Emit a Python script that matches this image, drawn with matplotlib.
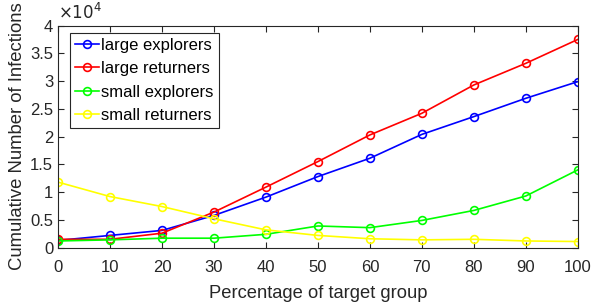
import matplotlib
matplotlib.use("Agg")
import matplotlib.pyplot as plt

plt.rcParams['font.family'] = ['Liberation Sans', 'DejaVu Sans']

x = [0, 10, 20, 30, 40, 50, 60, 70, 80, 90, 100]
large_explorers = [1300, 2200, 3100, 5800, 9100, 12800, 16100, 20400, 23600, 26900, 29900]
large_returners = [1500, 1500, 2600, 6400, 10900, 15500, 20300, 24200, 29300, 33200, 37500]
small_explorers = [1200, 1400, 1700, 1700, 2400, 3900, 3600, 4900, 6700, 9300, 14000]
small_returners = [11800, 9200, 7400, 5200, 3200, 2200, 1600, 1400, 1500, 1200, 1100]

series = [
    ("large explorers", large_explorers, "#0000ff"),
    ("large returners", large_returners, "#ff0000"),
    ("small explorers", small_explorers, "#00ff00"),
    ("small returners", small_returners, "#ffff00"),
]

fig = plt.figure(figsize=(5.92, 3.08), dpi=100)
ax = fig.add_axes([0.098, 0.196, 0.878, 0.721])

for label, vals, c in series:
    ax.plot(x, vals, color=c, lw=1.2, marker='o', ms=5.6, mfc='none',
            mec=c, mew=1.2, label=label)

ax.set_xlim(0, 100)
ax.set_ylim(0, 40000)
ax.set_xticks(x)
yt = [0, 5000, 10000, 15000, 20000, 25000, 30000, 35000, 40000]
ax.set_yticks(yt)
ax.set_yticklabels(['0', '0.5', '1', '1.5', '2', '2.5', '3', '3.5', '4'])

gray = '#262626'
for s in ax.spines.values():
    s.set_color(gray)
    s.set_linewidth(0.8)
ax.tick_params(direction='in', length=4, width=0.8, colors=gray,
               labelsize=12, top=True, right=True, pad=3.5)
ax.tick_params(axis='x', pad=9)

ax.set_xlabel('Percentage of target group', fontsize=13.2, color=gray, labelpad=7)
ax.set_ylabel('Cumulative Number of Infections', fontsize=13.3, color=gray, labelpad=3)

ax.text(0.0, 1.01, r'$\times10^{4}$', transform=ax.transAxes, fontsize=12,
        color=gray, ha='left', va='bottom', family='DejaVu Sans')

leg = ax.legend(loc='upper left', bbox_to_anchor=(0.023, 0.967), borderaxespad=0,
                fontsize=12, frameon=True, fancybox=False,
                borderpad=0.3, labelspacing=0.5, handlelength=1.45, handletextpad=0.12)
leg.get_frame().set_edgecolor(gray)
leg.get_frame().set_linewidth(0.8)
leg.get_frame().set_alpha(1)

fig.savefig('out.png', dpi=100)
